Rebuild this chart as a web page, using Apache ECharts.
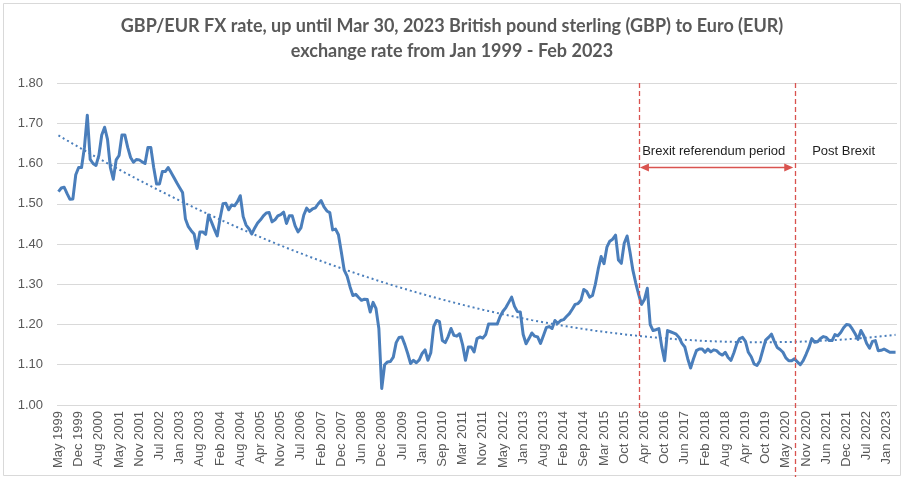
<!DOCTYPE html>
<html>
<head>
<meta charset="utf-8">
<title>GBP/EUR FX rate</title>
<script src="https://cdn.jsdelivr.net/npm/echarts@6/dist/echarts.min.js"></script>
<style>
  html, body { margin: 0; padding: 0; background: #ffffff; }
  #chart { width: 904px; height: 479px; }
</style>
</head>
<body>
<div id="chart"></div>
<script>
// Axis labels shown along the bottom, one every seven observations
const tickLabels = [
  'May 1999', 'Dec 1999', 'Aug 2000', 'May 2001', 'Nov 2001', 'Jul 2002', 'Jan 2003',
  'Aug 2003', 'Feb 2004', 'Aug 2004', 'Apr 2005', 'Nov 2005', 'Jul 2006', 'Feb 2007',
  'Dec 2007', 'Jun 2008', 'Dec 2008', 'Jul 2009', 'Jan 2010', 'Sep 2010', 'Mar 2011',
  'Nov 2011', 'May 2012', 'Jan 2013', 'Aug 2013', 'Feb 2014', 'Sep 2014', 'Mar 2015',
  'Oct 2015', 'Apr 2016', 'Oct 2016', 'Jun 2017', 'Feb 2018', 'Aug 2018', 'Apr 2019',
  'Oct 2019', 'May 2020', 'Nov 2020', 'Jun 2021', 'Dec 2021', 'Jul 2022', 'Jan 2023'
];
const PER_TICK = 7;

// GBP -> EUR rate, one value per observation (rows of seven = one label step)
const rates = [
  1.530, 1.539, 1.541, 1.525, 1.511, 1.512, 1.572,
  1.590, 1.590, 1.640, 1.720, 1.610, 1.600, 1.595,
  1.620, 1.671, 1.690, 1.660, 1.590, 1.561, 1.609,
  1.620, 1.671, 1.671, 1.640, 1.615, 1.603, 1.610,
  1.609, 1.604, 1.600, 1.640, 1.640, 1.590, 1.549,
  1.549, 1.580, 1.580, 1.590, 1.578, 1.565, 1.552,
  1.540, 1.528, 1.462, 1.443, 1.433, 1.425, 1.389,
  1.430, 1.430, 1.424, 1.472, 1.455, 1.437, 1.420,
  1.464, 1.500, 1.501, 1.485, 1.497, 1.495, 1.505,
  1.520, 1.468, 1.447, 1.438, 1.425, 1.440, 1.452,
  1.460, 1.470, 1.477, 1.478, 1.455, 1.460, 1.470,
  1.473, 1.479, 1.451, 1.470, 1.470, 1.445, 1.430,
  1.440, 1.472, 1.489, 1.481, 1.487, 1.490, 1.500,
  1.508, 1.492, 1.482, 1.478, 1.435, 1.437, 1.423,
  1.380, 1.335, 1.320, 1.294, 1.272, 1.275, 1.267,
  1.260, 1.263, 1.262, 1.231, 1.255, 1.240, 1.190,
  1.041, 1.100, 1.107, 1.108, 1.119, 1.155, 1.168,
  1.169, 1.150, 1.128, 1.103, 1.111, 1.105, 1.112,
  1.128, 1.137, 1.111, 1.130, 1.195, 1.210, 1.207,
  1.160, 1.155, 1.170, 1.190, 1.173, 1.171, 1.177,
  1.150, 1.111, 1.144, 1.144, 1.132, 1.165, 1.169,
  1.166, 1.175, 1.201, 1.201, 1.201, 1.201, 1.220,
  1.233, 1.242, 1.255, 1.268, 1.245, 1.232, 1.231,
  1.175, 1.152, 1.165, 1.179, 1.171, 1.169, 1.153,
  1.172, 1.192, 1.195, 1.190, 1.210, 1.203, 1.210,
  1.212, 1.220, 1.227, 1.238, 1.250, 1.252, 1.260,
  1.287, 1.282, 1.268, 1.272, 1.300, 1.338, 1.369,
  1.351, 1.392, 1.407, 1.412, 1.422, 1.360, 1.352,
  1.402, 1.420, 1.380, 1.335, 1.303, 1.275, 1.250,
  1.262, 1.290, 1.200, 1.185, 1.187, 1.190, 1.145,
  1.110, 1.185, 1.182, 1.179, 1.176, 1.168, 1.153,
  1.144, 1.115, 1.092, 1.115, 1.135, 1.139, 1.139,
  1.131, 1.139, 1.132, 1.137, 1.135, 1.128, 1.124,
  1.131, 1.118, 1.111, 1.130, 1.152, 1.165, 1.168,
  1.158, 1.131, 1.120, 1.102, 1.098, 1.110, 1.136,
  1.161, 1.168, 1.176, 1.158, 1.143, 1.138, 1.131,
  1.117, 1.110, 1.110, 1.115, 1.107, 1.100, 1.110,
  1.126, 1.143, 1.165, 1.156, 1.157, 1.165, 1.170,
  1.168, 1.160, 1.160, 1.175, 1.172, 1.180, 1.192,
  1.200, 1.199, 1.189, 1.177, 1.163, 1.185, 1.172,
  1.153, 1.141, 1.158, 1.160, 1.135, 1.136, 1.139,
  1.135, 1.131, 1.131, 1.131
];

const yTicks = { min: 1.0, max: 1.8, step: 0.1 };

// Brexit annotation: period boundaries (observation index) and arrow
const brexitStart = 201;
const brexitEnd = 255;
const arrowSpan = [203, 253];
const arrowLevel = 1.59;
const periodText = 'Brexit referendum period';
const postText = 'Post Brexit';
const periodTextAt = [227, 1.629];
const postTextAt = [272, 1.629];

const BLUE = '#4a7ebb';
const RED = '#d9534f';
const GREY_TEXT = '#595959';
const GRID_GREY = '#d9d9d9';

// Category names: label on each seventh observation, unique placeholders between
const categories = rates.map((_, i) => {
  const k = Math.floor(i / PER_TICK);
  const j = i % PER_TICK;
  return j === 0 ? tickLabels[k] : tickLabels[k] + ' +' + j;
});

// Second-order polynomial least-squares trend (x = 1..n)
function polyTrend(ys) {
  const S = [0, 0, 0, 0, 0];
  const T = [0, 0, 0];
  ys.forEach((y, i) => {
    const x = i + 1;
    let p = 1;
    for (let k = 0; k <= 4; k++) { S[k] += p; if (k <= 2) T[k] += p * y; p *= x; }
  });
  const M = [
    [S[0], S[1], S[2], T[0]],
    [S[1], S[2], S[3], T[1]],
    [S[2], S[3], S[4], T[2]]
  ];
  for (let c = 0; c < 3; c++) {
    let piv = c;
    for (let r = c + 1; r < 3; r++) if (Math.abs(M[r][c]) > Math.abs(M[piv][c])) piv = r;
    [M[c], M[piv]] = [M[piv], M[c]];
    for (let r = 0; r < 3; r++) {
      if (r === c) continue;
      const f = M[r][c] / M[c][c];
      for (let k = c; k < 4; k++) M[r][k] -= f * M[c][k];
    }
  }
  const a = M[0][3] / M[0][0], b = M[1][3] / M[1][1], c2 = M[2][3] / M[2][2];
  return ys.map((_, i) => { const x = i + 1; return a + b * x + c2 * x * x; });
}
const trend = polyTrend(rates);

const chart = echarts.init(document.getElementById('chart'), null, { renderer: 'canvas' });

chart.setOption({
  animation: false,
  backgroundColor: '#ffffff',
  title: {
    text: 'GBP/EUR FX rate, up until Mar 30, 2023 British pound sterling (GBP) to Euro (EUR)\nexchange rate from Jan 1999 - Feb 2023',
    left: 'center',
    top: 9,
    textStyle: {
      fontFamily: 'Lato',
      fontWeight: 'bold',
      fontSize: 18,
      lineHeight: 25,
      color: GREY_TEXT
    }
  },
  grid: { left: 57, right: 7, top: 83, bottom: 74, containLabel: false },
  xAxis: {
    type: 'category',
    data: categories,
    boundaryGap: true,
    axisLine: { show: false },
    axisTick: { show: false },
    splitLine: { show: false },
    axisLabel: {
      interval: PER_TICK - 1,
      rotate: 90,
      margin: 6,
      fontFamily: 'Liberation Sans',
      fontSize: 13,
      color: GREY_TEXT,
      formatter: (v, i) => tickLabels[Math.floor(i / PER_TICK)]
    }
  },
  yAxis: {
    type: 'value',
    min: yTicks.min,
    max: yTicks.max,
    interval: yTicks.step,
    axisLine: { show: false },
    axisTick: { show: false },
    splitLine: { lineStyle: { color: GRID_GREY, width: 1 } },
    axisLabel: {
      margin: 14,
      fontFamily: 'Liberation Sans',
      fontSize: 13,
      color: GREY_TEXT,
      formatter: v => v.toFixed(2)
    }
  },
  series: [
    {
      name: 'GBP/EUR',
      type: 'line',
      data: rates,
      showSymbol: false,
      symbol: 'none',
      lineStyle: { color: BLUE, width: 3, join: 'round' },
      z: 3,
      markLine: {
        silent: true,
        symbol: ['triangle', 'triangle'],
        symbolSize: [8, 9],
        lineStyle: { color: RED, width: 1.3, type: 'solid' },
        label: { show: false },
        data: [[
          { coord: [arrowSpan[0], arrowLevel] },
          { coord: [arrowSpan[1], arrowLevel] }
        ]]
      },
      markPoint: {
        silent: true,
        symbol: 'circle',
        symbolSize: 0,
        label: {
          show: true,
          position: 'inside',
          fontFamily: 'Liberation Sans',
          fontSize: 13,
          color: '#1f1f1f',
          formatter: p => p.name
        },
        data: [
          { name: periodText, coord: periodTextAt },
          { name: postText, coord: postTextAt }
        ]
      }
    },
    {
      name: 'Trend',
      type: 'line',
      data: trend,
      showSymbol: false,
      symbol: 'none',
      smooth: false,
      lineStyle: { color: BLUE, width: 2, type: [2, 3], cap: 'butt' },
      z: 2
    }
  ]
});

// Dashed period boundaries, placed through the axes and run a little below the plot
function drawBoundaries() {
  const top = chart.convertToPixel({ gridIndex: 0 }, [0, yTicks.max])[1];
  const bottom = chart.convertToPixel({ gridIndex: 0 }, [0, yTicks.min])[1];
  const xs = [brexitStart, brexitEnd].map(i => chart.convertToPixel({ gridIndex: 0 }, [i, yTicks.min])[0]);
  const ends = [bottom + 8, bottom + 72];
  const w = chart.getWidth(), h = chart.getHeight();
  chart.setOption({
    graphic: [
      {
        type: 'rect', silent: true, z: -1,
        shape: { x: 3.5, y: 3.5, width: w - 7, height: h - 7 },
        style: { fill: 'none', stroke: '#d9d9d9', lineWidth: 1 }
      },
      ...xs.map((x, k) => ({
        type: 'line', silent: true, z: 10,
        shape: { x1: Math.round(x) + 0.5, y1: top, x2: Math.round(x) + 0.5, y2: ends[k] },
        style: { stroke: RED, lineWidth: 1.3, lineDash: [5, 3] }
      }))
    ]
  });
}
drawBoundaries();
</script>
</body>
</html>
